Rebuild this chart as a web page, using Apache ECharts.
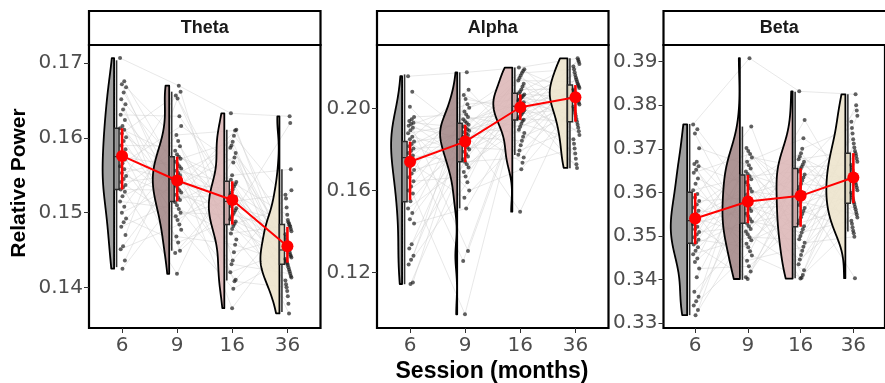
<!DOCTYPE html>
<html>
<head>
<meta charset="utf-8">
<script src="https://cdn.jsdelivr.net/npm/echarts@6/dist/echarts.min.js"></script>
<style>html,body{margin:0;padding:0;background:#fff}#c{width:885px;height:383px}</style>
</head>
<body>
<div id="c"></div>
<script>
// ---------------- data ----------------
const sessions = ['6', '9', '16', '36'];
const bands = ['Theta', 'Alpha', 'Beta'];

const theta6 = [0.1707,0.1676,0.1672,0.1668,0.1661,0.1652,0.1645,0.1638,0.1631,0.1624,0.1616,0.1613,0.1611,0.1606,0.1601,0.1596,0.1590,0.1585,0.1580,0.1575,0.1571,0.1566,0.1562,0.1558,0.1553,0.1549,0.1545,0.1541,0.1537,0.1534,0.1531,0.1528,0.1522,0.1515,0.1508,0.1500,0.1492,0.1487,0.1481,0.1470,0.1455,0.1451,0.1436,0.1425];
const theta9 = [0.1670,0.1556,0.1500,0.1596,0.1536,0.1449,0.1565,0.1514,0.1629,0.1545,0.1477,0.1575,0.1524,0.1662,0.1553,0.1495,0.1589,0.1533,0.1446,0.1562,0.1510,0.1616,0.1542,0.1468,0.1572,0.1520,0.1657,0.1550,0.1490,0.1583,0.1530,0.1418,0.1559,0.1505,0.1604,0.1539,0.1460,0.1568,0.1517,0.1653,0.1547,0.1484,0.1578,0.1527];
const theta16 = [0.1633,0.1538,0.1497,0.1420,0.1574,0.1512,0.1464,0.1603,0.1527,0.1488,0.1398,0.1544,0.1503,0.1436,0.1587,0.1518,0.1478,0.1611,0.1535,0.1494,0.1410,0.1567,0.1509,0.1457,0.1595,0.1524,0.1485,0.1372,0.1541,0.1500,0.1431,0.1580,0.1515,0.1472,0.1610,0.1531,0.1491,0.1408,0.1550,0.1506,0.1447,0.1590,0.1521,0.1482];
const theta36 = [0.1629,0.1497,0.1475,0.1450,0.1434,0.1415,0.1378,0.1519,0.1481,0.1456,0.1438,0.1421,0.1395,0.1530,0.1485,0.1463,0.1442,0.1427,0.1404,0.1620,0.1490,0.1471,0.1447,0.1432,0.1413,0.1365,0.1507,0.1478,0.1453,0.1436,0.1418,0.1388,0.1524,0.1483,0.1459,0.1440,0.1424,0.1400,0.1558,0.1487,0.1467,0.1444,0.1430,0.1409];

const alpha6 = [0.2156,0.2081,0.2008,0.1958,0.1947,0.1938,0.1930,0.1924,0.1915,0.1905,0.1893,0.1878,0.1862,0.1850,0.1838,0.1826,0.1815,0.1804,0.1793,0.1782,0.1770,0.1759,0.1745,0.1730,0.1716,0.1700,0.1683,0.1665,0.1645,0.1620,0.1600,0.1585,0.1548,0.1513,0.1490,0.1460,0.1440,0.1338,0.1318,0.1282,0.1263,0.1240,0.1152,0.1145];
const alpha9 = [0.2175,0.1884,0.1712,0.1970,0.1830,0.1306,0.1905,0.1752,0.2020,0.1855,0.1600,0.1928,0.1788,0.2090,0.1877,0.1690,0.1958,0.1820,0.1257,0.1898,0.1740,0.2003,0.1847,0.1565,0.1920,0.1776,0.2065,0.1870,0.1668,0.1947,0.1810,0.0998,0.1891,0.1728,0.1985,0.1839,0.1513,0.1912,0.1765,0.2045,0.1862,0.1640,0.1937,0.1799];
const alpha16 = [0.2198,0.2061,0.1966,0.1774,0.2106,0.2006,0.1880,0.2172,0.2043,0.1944,0.1703,0.2073,0.1982,0.1820,0.2135,0.2022,0.1910,0.2190,0.2055,0.1958,0.1760,0.2092,0.1998,0.1862,0.2160,0.2037,0.1938,0.1497,0.2067,0.1974,0.1795,0.2120,0.2014,0.1896,0.2182,0.2049,0.1950,0.1735,0.2080,0.1990,0.1842,0.2148,0.2030,0.1925];
const alpha36 = [0.2243,0.2162,0.2099,0.2050,0.1987,0.1888,0.1728,0.2190,0.2113,0.2064,0.2008,0.1920,0.1780,0.2215,0.2130,0.2078,0.2027,0.1948,0.1828,0.2235,0.2150,0.2092,0.2043,0.1975,0.1870,0.1710,0.2176,0.2106,0.2057,0.1998,0.1905,0.1755,0.2203,0.2121,0.2071,0.2018,0.1935,0.1805,0.2226,0.2140,0.2085,0.2035,0.1962,0.1850];

const beta6 = [0.3756,0.3745,0.3735,0.3701,0.3670,0.3665,0.3660,0.3652,0.3645,0.3632,0.3620,0.3605,0.3596,0.3588,0.3580,0.3572,0.3565,0.3558,0.3551,0.3545,0.3539,0.3533,0.3527,0.3521,0.3515,0.3509,0.3503,0.3497,0.3491,0.3485,0.3480,0.3474,0.3466,0.3458,0.3448,0.3440,0.3425,0.3405,0.3372,0.3360,0.3350,0.3340,0.3330,0.3318];
const beta9 = [0.3908,0.3595,0.3490,0.3662,0.3551,0.3418,0.3616,0.3510,0.3688,0.3569,0.3455,0.3637,0.3528,0.3751,0.3588,0.3482,0.3655,0.3545,0.3405,0.3609,0.3504,0.3680,0.3563,0.3443,0.3630,0.3522,0.3702,0.3581,0.3474,0.3648,0.3539,0.3401,0.3602,0.3497,0.3670,0.3557,0.3430,0.3623,0.3516,0.3695,0.3575,0.3465,0.3642,0.3533];
const beta16 = [0.3832,0.3634,0.3543,0.3435,0.3664,0.3578,0.3484,0.3700,0.3613,0.3522,0.3404,0.3648,0.3557,0.3456,0.3676,0.3592,0.3500,0.3766,0.3627,0.3536,0.3421,0.3658,0.3571,0.3475,0.3690,0.3606,0.3515,0.3402,0.3641,0.3550,0.3446,0.3670,0.3585,0.3492,0.3724,0.3620,0.3529,0.3410,0.3653,0.3564,0.3466,0.3682,0.3599,0.3508];
const beta36 = [0.3825,0.3722,0.3670,0.3628,0.3588,0.3549,0.3498,0.3748,0.3684,0.3639,0.3599,0.3561,0.3512,0.3776,0.3695,0.3651,0.3611,0.3573,0.3528,0.3800,0.3712,0.3663,0.3622,0.3583,0.3542,0.3403,0.3735,0.3677,0.3633,0.3594,0.3555,0.3506,0.3762,0.3690,0.3645,0.3605,0.3567,0.3520,0.3788,0.3703,0.3657,0.3617,0.3578,0.3535];

// summary: mean and error-bar ends per session
const thetaMean = [0.1576, 0.1543, 0.1517, 0.1455];
const thetaErrLow = [0.1531, 0.1515, 0.1484, 0.1433];
const thetaErrHigh = [0.1613, 0.1575, 0.1542, 0.1481];
const alphaMean = [0.1740, 0.1838, 0.2005, 0.2054];
const alphaErrLow = [0.1554, 0.1738, 0.1943, 0.1935];
const alphaErrHigh = [0.1838, 0.1920, 0.2068, 0.2113];
const betaMean = [0.3540, 0.3579, 0.3592, 0.3634];
const betaErrLow = [0.3481, 0.3529, 0.3521, 0.3575];
const betaErrHigh = [0.3598, 0.3640, 0.3655, 0.3690];

// boxplot: [lower whisker, Q1, median, Q3, upper whisker]
const thetaBox = [[0.1427,0.1531,0.1575,0.1613,0.1704],[0.1449,0.1515,0.1545,0.1575,0.1662],[0.1409,0.1484,0.1515,0.1542,0.1611],[0.1367,0.1431,0.1450,0.1484,0.1558]];
const alphaBox = [[0.1144,0.1545,0.1760,0.1838,0.2165],[0.1513,0.1740,0.1850,0.1927,0.2175],[0.1773,0.1943,0.2010,0.2073,0.2198],[0.1708,0.1935,0.2050,0.2113,0.2243]];
const betaBox = [[0.3318,0.3483,0.3535,0.3600,0.3757],[0.3399,0.3529,0.3575,0.3640,0.3751],[0.3403,0.3521,0.3590,0.3655,0.3831],[0.3510,0.3575,0.3630,0.3690,0.3825]];

const thetaTicks = [0.14, 0.15, 0.16, 0.17];
const alphaTicks = [0.12, 0.16, 0.20];
const betaTicks = [0.33, 0.34, 0.35, 0.36, 0.37, 0.38, 0.39];

// ---------------- styling / layout ----------------
const fills = ['rgba(150,150,150,0.9)', 'rgba(160,130,130,0.85)', 'rgba(218,180,180,0.85)', 'rgba(237,228,205,0.9)'];
const panels = [
  {groups: [theta6, theta9, theta16, theta36], mean: thetaMean, lo: thetaErrLow, hi: thetaErrHigh, box: thetaBox, ticks: thetaTicks, min: 0.13455, max: 0.17245, left: 89},
  {groups: [alpha6, alpha9, alpha16, alpha36], mean: alphaMean, lo: alphaErrLow, hi: alphaErrHigh, box: alphaBox, ticks: alphaTicks, min: 0.0931, max: 0.2308, left: 377},
  {groups: [beta6, beta9, beta16, beta36], mean: betaMean, lo: betaErrLow, hi: betaErrHigh, box: betaBox, ticks: betaTicks, min: 0.32885, max: 0.39383, left: 663.5}
];
const GW = 231.5, GTOP = 45, GH = 283;
const VW = 19;        // max half-violin width, px
const EDGE = -8;      // violin flat edge offset from category, px

function quantile(s, p) {
  const h = (s.length - 1) * p, lo = Math.floor(h);
  return s[lo] + (h - lo) * ((s[Math.min(lo + 1, s.length - 1)]) - s[lo]);
}
function kde(vals) {
  const s = vals.slice().sort((a, b) => a - b);
  const N = s.length;
  const m = s.reduce((a, b) => a + b, 0) / N;
  const sd = Math.sqrt(s.reduce((a, b) => a + (b - m) * (b - m), 0) / (N - 1));
  const iqr = quantile(s, 0.75) - quantile(s, 0.25);
  const bw = 0.9 * Math.min(sd, iqr / 1.34) * Math.pow(N, -0.2);
  const ys = [], ds = [];
  const n = 160;
  for (let k = 0; k <= n; k++) {
    const y = s[0] + (s[N - 1] - s[0]) * k / n;
    let d = 0;
    for (const x of s) { const z = (y - x) / bw; d += Math.exp(-0.5 * z * z); }
    d /= N * bw * Math.sqrt(2 * Math.PI);
    ys.push(y); ds.push(d);
  }
  return {ys, ds};
}
function jit(s, i) { return 1 + ((((s * 29 + i * 17) % 11) / 10) - 0.5) * 6; }

const grids = [], xAxes = [], yAxes = [], series = [], graphics = [];

panels.forEach((P, p) => {
  grids.push({left: P.left, top: GTOP, width: GW, height: GH, show: true, borderColor: '#000', borderWidth: 2.2, backgroundColor: 'transparent'});
  xAxes.push({
    type: 'value', gridIndex: p, min: -0.6, max: 3.6, position: 'bottom',
    splitLine: {show: false}, axisLine: {show: false, onZero: false},
    axisTick: {show: true, customValues: [0, 1, 2, 3], length: 5, lineStyle: {color: '#333', width: 1}},
    axisLabel: {customValues: [0, 1, 2, 3], formatter: v => sessions[Math.round(v)], color: '#4d4d4d', fontFamily: 'DejaVu Sans', fontSize: 20, margin: 8}
  });
  yAxes.push({
    type: 'value', gridIndex: p, min: P.min, max: P.max, position: 'left',
    splitLine: {show: false}, axisLine: {show: false, onZero: false},
    axisTick: {show: true, customValues: P.ticks, length: 5, lineStyle: {color: '#333', width: 1}},
    axisLabel: {customValues: P.ticks, formatter: v => v.toFixed(2), color: '#4d4d4d', fontFamily: 'DejaVu Sans', fontSize: 20, margin: 6}
  });

  const kdes = P.groups.map(kde);
  const maxD = Math.max(...kdes.map(k => Math.max(...k.ds)));

  // subject lines
  series.push({
    type: 'custom', xAxisIndex: p, yAxisIndex: p, z: 1, silent: true,
    data: P.groups[0].map((_, s) => [0, P.groups[0][s], s]),
    renderItem: (params, api) => {
      const s = api.value(2);
      const pts = P.groups.map((g, i) => { const c = api.coord([i, g[s]]); return [c[0] + jit(s, i), c[1]]; });
      return {type: 'polyline', shape: {points: pts}, style: {stroke: 'rgba(205,205,205,0.45)', lineWidth: 1, fill: null}};
    }
  });

  // half violins
  series.push({
    type: 'custom', xAxisIndex: p, yAxisIndex: p, z: 2, silent: true,
    data: [0, 1, 2, 3].map(i => [i, P.mean[i]]),
    renderItem: (params, api) => {
      const i = api.value(0);
      const k = kdes[i];
      const xe = api.coord([i, k.ys[0]])[0] + EDGE;
      const pts = [];
      for (let j = 0; j < k.ys.length; j++) pts.push([xe - k.ds[j] / maxD * VW, api.coord([i, k.ys[j]])[1]]);
      pts.push([xe, api.coord([i, k.ys[k.ys.length - 1]])[1]]);
      pts.push([xe, api.coord([i, k.ys[0]])[1]]);
      return {type: 'polygon', shape: {points: pts}, style: {fill: fills[i], stroke: '#000', lineWidth: 1.8, lineJoin: 'round'}};
    }
  });

  // boxplots
  series.push({
    type: 'custom', xAxisIndex: p, yAxisIndex: p, z: 3, silent: true,
    data: [0, 1, 2, 3].map(i => [i].concat(P.box[i])),
    renderItem: (params, api) => {
      const i = api.value(0);
      const cx = api.coord([i, api.value(1)])[0];
      const yLo = api.coord([i, api.value(1)])[1], yQ1 = api.coord([i, api.value(2)])[1];
      const yMed = api.coord([i, api.value(3)])[1], yQ3 = api.coord([i, api.value(4)])[1];
      const yHi = api.coord([i, api.value(5)])[1];
      const wx = cx - 5.5;
      return {type: 'group', children: [
        {type: 'line', shape: {x1: wx, y1: yLo, x2: wx, y2: yHi}, style: {stroke: '#333', lineWidth: 1.6}},
        {type: 'rect', shape: {x: cx - 8, y: yQ3, width: 5, height: yQ1 - yQ3}, style: {fill: fills[i], stroke: '#2a2a2a', lineWidth: 1.5}},
        {type: 'line', shape: {x1: cx - 8, y1: yMed, x2: cx - 3, y2: yMed}, style: {stroke: '#2a2a2a', lineWidth: 1.2}}
      ]};
    }
  });

  // jittered points
  const pdata = [];
  P.groups.forEach((g, i) => g.forEach((v, s) => pdata.push([i, v, s])));
  series.push({
    type: 'custom', xAxisIndex: p, yAxisIndex: p, z: 4, silent: true,
    data: pdata,
    renderItem: (params, api) => {
      const i = api.value(0), s = api.value(2);
      const c = api.coord([i, api.value(1)]);
      return {type: 'circle', shape: {cx: c[0] + jit(s, i), cy: c[1], r: 2}, style: {fill: 'rgba(30,30,30,0.7)'}};
    }
  });

  // error bars
  series.push({
    type: 'custom', xAxisIndex: p, yAxisIndex: p, z: 5, silent: true,
    data: [0, 1, 2, 3].map(i => [i, P.lo[i], P.hi[i]]),
    renderItem: (params, api) => {
      const i = api.value(0);
      const a = api.coord([i, api.value(1)]), b = api.coord([i, api.value(2)]);
      return {type: 'line', shape: {x1: a[0], y1: a[1], x2: b[0], y2: b[1]}, style: {stroke: '#ff0000', lineWidth: 2.6}};
    }
  });

  // means
  series.push({
    type: 'line', xAxisIndex: p, yAxisIndex: p, z: 6, silent: true,
    data: P.mean.map((m, i) => [i, m]),
    symbol: 'circle', symbolSize: 12,
    lineStyle: {color: '#ff0000', width: 2},
    itemStyle: {color: '#ff0000'}
  });

  // strip
  graphics.push({type: 'rect', shape: {x: P.left, y: 11, width: GW, height: 34}, style: {fill: '#fff', stroke: '#000', lineWidth: 2.2}, z: 10});
  graphics.push({type: 'text', x: P.left + GW / 2, y: 28.5, style: {text: bands[p], font: 'bold 18px "Liberation Sans", Arial, sans-serif', fill: '#1a1a1a', align: 'center', verticalAlign: 'middle'}, z: 11});
});

graphics.push({type: 'text', x: 19.5, y: 183, rotation: Math.PI / 2, style: {text: 'Relative Power', font: 'bold 21px "Liberation Sans", Arial, sans-serif', fill: '#000', align: 'center', verticalAlign: 'middle'}});
graphics.push({type: 'text', x: 492, y: 372, style: {text: 'Session (months)', font: 'bold 23px "Liberation Sans", Arial, sans-serif', fill: '#000', align: 'center', verticalAlign: 'middle'}});

const chart = echarts.init(document.getElementById('c'), null, {renderer: 'canvas'});
chart.setOption({
  animation: false,
  backgroundColor: '#fff',
  grid: grids, xAxis: xAxes, yAxis: yAxes, series: series, graphic: graphics
});
</script>
</body>
</html>
